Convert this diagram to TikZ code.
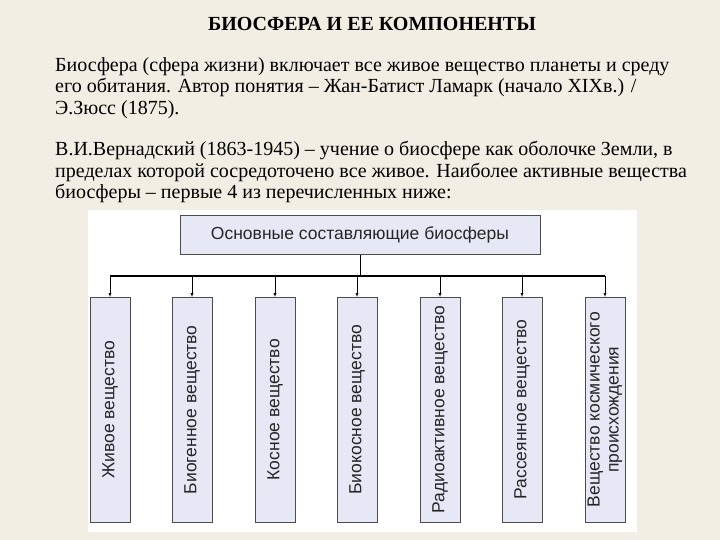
\documentclass[tikz,border=0pt]{standalone}
\usepackage{fontspec}
\setmainfont{Liberation Serif}
\setsansfont{Liberation Sans}
\definecolor{boxfill}{RGB}{230,233,245}
\begin{document}
\begin{tikzpicture}[x=1pt,y=-1pt,
  comp/.style={draw=black!70,fill=boxfill,minimum width=40pt,minimum height=225pt,anchor=north,inner sep=0pt},
  lbl/.style={rotate=90,font=\sffamily\fontsize{17.5}{19}\selectfont,align=center,text=black!85},
  txt/.style={anchor=north west,inner sep=0pt,align=left,font=\fontsize{20}{21.5}\selectfont}]
\fill[color={rgb,255:red,243;green,238;blue,227}] (0,0) rectangle (720,540);
\useasboundingbox (0,0) rectangle (720,540);
\fill[white] (88,210) rectangle (637,532);
\node[font=\bfseries\fontsize{20}{22}\selectfont] (title) at (372,24) {БИОСФЕРА И ЕЕ КОМПОНЕНТЫ};
\node[txt] (p1) at (55,57) {Биосфера (сфера жизни) включает все живое вещество планеты и среду\\его обитания. Автор понятия -- Жан-Батист Ламарк (начало XIXв.) /\\Э.Зюсс (1875).};
\node[txt] (p2) at (55,141) {В.И.Вернадский (1863-1945) -- учение о биосфере как оболочке Земли, в\\пределах которой сосредоточено все живое. Наиболее активные вещества\\биосферы -- первые 4 из перечисленных ниже:};
\node[draw=black!70,fill=boxfill,minimum width=360pt,minimum height=39pt,font=\sffamily\fontsize{17.5}{19}\selectfont,text=black!85] (top) at (360,235) {Основные составляющие биосферы};
\coordinate (busL) at (110,276);
\coordinate (busR) at (605,276);
\coordinate (busM) at (360,276);
\draw[line width=1.6pt] (busL) -- (busR);
\draw (top.south) -- (busM);
\foreach \x/\t [count=\i] in {110/Живое вещество,192/Биогенное вещество,275/Косное вещество,357/Биокосное вещество,440/Радиоактивное вещество,522/Рассеянное вещество,605/{Вещество космического\\происхождения}}{
  \node[comp] (b\i) at (\x,297) {};
  \node[lbl] (l\i) at (b\i.center) {\t};
  \coordinate (c\i) at (\x,276);
  \draw[-latex] (c\i) -- (b\i.north);
}
\end{tikzpicture}
\end{document}
